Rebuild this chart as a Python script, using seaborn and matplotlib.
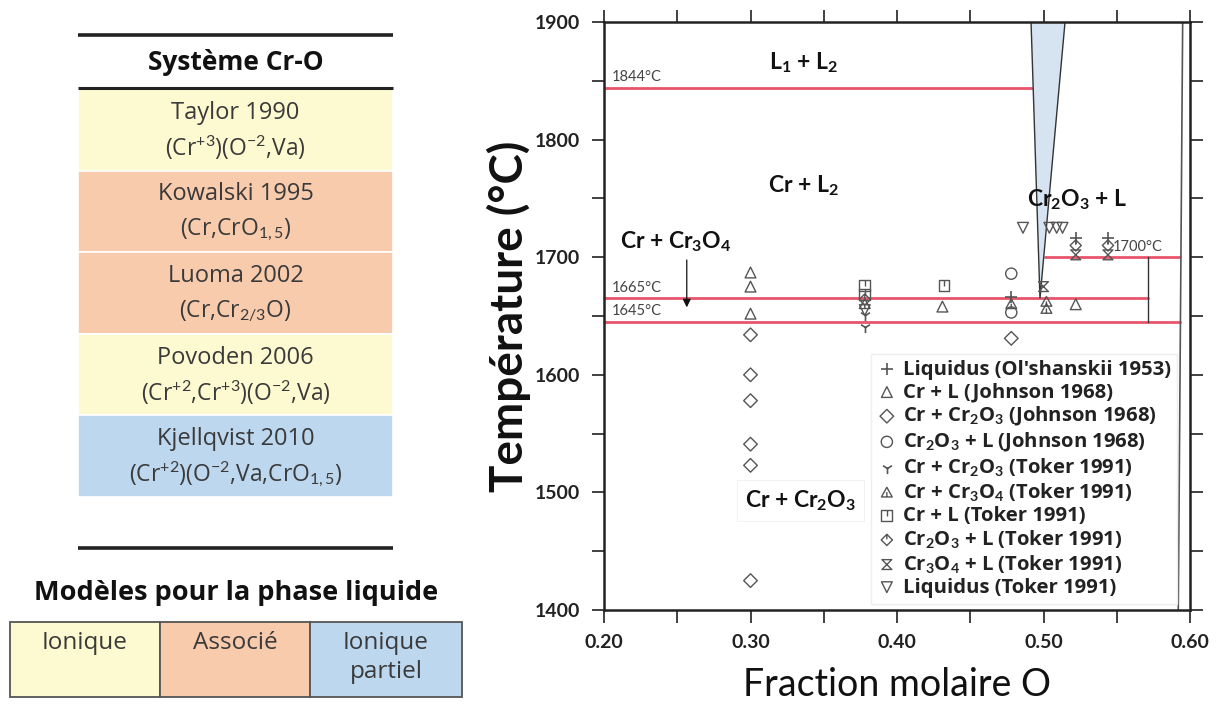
import numpy as np
import pandas as pd
import matplotlib
matplotlib.use("Agg")
import matplotlib.pyplot as plt
from matplotlib.path import Path
from matplotlib.ticker import MultipleLocator, FormatStrFormatter
import seaborn as sns

# ---------------- data ----------------
# Invariant reactions: temperature, x start, x end
invariant_T = [1844, 1665, 1645, 1700]
invariant_x0 = [0.20, 0.20, 0.20, 0.501]
invariant_x1 = [0.492, 0.571, 0.593, 0.593]
invariant_labels = ["1844°C", "1665°C", "1645°C", "1700°C"]

# Miscibility-gap tongue (shaded wedge)
wedge_x = [0.4915, 0.5147, 0.4976]
wedge_T = [1900, 1900, 1665]

# Cr2O3 phase boundary near x = 0.6
cr2o3_x = [0.595, 0.592]
cr2o3_T = [1900, 1400]

# Vertical boundary between 1645 and 1700 °C
vert_x = [0.571, 0.571]
vert_T = [1645, 1700]

# Experimental points
olsh_liq_x = [0.522, 0.544, 0.478]
olsh_liq_T = [1716, 1716, 1666]

joh_crl_x = [0.30, 0.30, 0.30, 0.431, 0.522]
joh_crl_T = [1687, 1675, 1652, 1658, 1660]

joh_cr_cr2o3_x = [0.30, 0.30, 0.30, 0.30, 0.30, 0.30, 0.478]
joh_cr_cr2o3_T = [1634, 1600, 1578, 1541, 1523, 1425, 1631]

joh_cr2o3_l_x = [0.478, 0.478]
joh_cr2o3_l_T = [1686, 1653]

tok_cr_cr2o3_x = [0.378, 0.378]
tok_cr_cr2o3_T = [1641, 1651]

tok_cr_cr3o4_x = [0.378, 0.502, 0.502, 0.478]
tok_cr_cr3o4_T = [1660, 1656, 1662, 1660]

tok_crl_x = [0.378, 0.432, 0.378]
tok_crl_T = [1676, 1676, 1668]

tok_cr2o3_l_x = [0.378, 0.522, 0.544]
tok_cr2o3_l_T = [1664, 1710, 1710]

tok_cr3o4_l_x = [0.500, 0.522, 0.544]
tok_cr3o4_l_T = [1675, 1702, 1702]

tok_liq_x = [0.486, 0.504, 0.509, 0.513, 0.378]
tok_liq_T = [1725, 1725, 1725, 1725, 1655]

series_labels = [
    "Liquidus (Ol'shanskii 1953)",
    "Cr + L (Johnson 1968)",
    r"Cr + Cr$_\mathbf{2}$O$_\mathbf{3}$ (Johnson 1968)",
    r"Cr$_\mathbf{2}$O$_\mathbf{3}$ + L (Johnson 1968)",
    r"Cr + Cr$_\mathbf{2}$O$_\mathbf{3}$ (Toker 1991)",
    r"Cr + Cr$_\mathbf{3}$O$_\mathbf{4}$ (Toker 1991)",
    "Cr + L (Toker 1991)",
    r"Cr$_\mathbf{2}$O$_\mathbf{3}$ + L (Toker 1991)",
    r"Cr$_\mathbf{3}$O$_\mathbf{4}$ + L (Toker 1991)",
    "Liquidus (Toker 1991)",
]

# Table of liquid models
model_names = ["Taylor 1990", "Kowalski 1995", "Luoma 2002", "Povoden 2006", "Kjellqvist 2010"]
model_formulas = [
    r"(Cr$^{+3}$)(O$^{-2}$,Va)",
    r"(Cr,CrO$_{1,5}$)",
    r"(Cr,Cr$_{2/3}$O)",
    r"(Cr$^{+2}$,Cr$^{+3}$)(O$^{-2}$,Va)",
    r"(Cr$^{+2}$)(O$^{-2}$,Va,CrO$_{1,5}$)",
]
model_types = ["Ionique", "Associé", "Associé", "Ionique", "Ionique partiel"]
type_names = ["Ionique", "Associé", "Ionique\npartiel"]
type_colors = {"Ionique": "#FDF9D0", "Associé": "#F8CBAD", "Ionique partiel": "#BDD7EE"}

# ---------------- style ----------------
sns.set_theme(style="ticks")
plt.rcParams["font.family"] = ["Lato", "DejaVu Sans"]
plt.rcParams["mathtext.fontset"] = "custom"
plt.rcParams["mathtext.rm"] = "Lato"
plt.rcParams["mathtext.it"] = "Lato:italic"
plt.rcParams["mathtext.bf"] = "Lato:bold"

fig = plt.figure(figsize=(12.25, 7.19), dpi=100)

# ---------------- left panel: model table ----------------
tab = fig.add_axes([0, 0, 1, 1])
tab.set_xlim(0, 1225)
tab.set_ylim(719, 0)
tab.axis("off")

tfam = ["Open Sans", "DejaVu Sans"]
tx0, tx1 = 78, 393
row_top = 89
row_h = 81.5
for i, (name, form, mtype) in enumerate(zip(model_names, model_formulas, model_types)):
    y0 = row_top + i * row_h
    tab.add_patch(plt.Rectangle((tx0, y0), tx1 - tx0, row_h,
                                facecolor=type_colors[mtype], edgecolor="white", lw=1.2))
    tab.text((tx0 + tx1) / 2, y0 + 24, name, ha="center", va="center",
             fontsize=17, color="#3a3a3a", family=tfam)
    tab.text((tx0 + tx1) / 2, y0 + 59, form, ha="center", va="center",
             fontsize=16.5, color="#3a3a3a", family=tfam)
tab.plot([tx0, tx1], [35, 35], color="#222222", lw=2.6, solid_capstyle="butt")
tab.plot([tx0, tx1], [88, 88], color="#222222", lw=2.2, solid_capstyle="butt")
tab.plot([tx0, tx1], [548, 548], color="#222222", lw=2.6, solid_capstyle="butt")
tab.text((tx0 + tx1) / 2, 63, "Système Cr-O", ha="center", va="center",
         fontsize=19, fontweight="bold", color="#111111", family=tfam)

tab.text(236, 593, "Modèles pour la phase liquide", ha="center", va="center",
         fontsize=19.5, fontweight="bold", color="#111111", family=tfam)
bx = [10, 160, 310, 462]
for j, tname in enumerate(type_names):
    key = tname.replace("\n", " ")
    tab.add_patch(plt.Rectangle((bx[j], 622), bx[j + 1] - bx[j], 75,
                                facecolor=type_colors[key], edgecolor="#555555", lw=1.3))
    tab.text((bx[j] + bx[j + 1]) / 2, 631, tname, ha="center", va="top",
             fontsize=17.5, color="#3a3a3a", linespacing=1.25, family=tfam)

# ---------------- right panel: phase diagram ----------------
ax = fig.add_axes([604 / 1225, 1 - 610 / 719, 586 / 1225, 588 / 719])
ax.set_xlim(0.20, 0.60)
ax.set_ylim(1400, 1900)

red = "#E8546A"
for T, x0, x1 in zip(invariant_T, invariant_x0, invariant_x1):
    ax.plot([x0, x1], [T, T], color=red, lw=2.0, zorder=2)

ax.fill(wedge_x, wedge_T, facecolor="#D6E4F2", edgecolor="#333333", lw=1.0, zorder=2)
ax.plot(cr2o3_x, cr2o3_T, color="#555555", lw=1.2, zorder=2)
ax.plot(vert_x, vert_T, color="#333333", lw=1.0, zorder=2)

# small temperature labels
lab_kw = dict(fontsize=10.5, color="#444444", zorder=4)
ax.text(0.205, invariant_T[0] + 3, invariant_labels[0], ha="left", va="bottom", **lab_kw)
ax.text(0.205, invariant_T[1] + 3, invariant_labels[1], ha="left", va="bottom", **lab_kw)
ax.text(0.205, invariant_T[2] + 3, invariant_labels[2], ha="left", va="bottom", **lab_kw)
ax.text(0.547, invariant_T[3] + 3, invariant_labels[3], ha="left", va="bottom", **lab_kw)

# custom marker shapes
tri_dot = Path([(-1, -0.8), (1, -0.8), (0, 1), (-1, -0.8), (0, -0.8), (0, 0.1)],
               [Path.MOVETO, Path.LINETO, Path.LINETO, Path.CLOSEPOLY, Path.MOVETO, Path.LINETO])
square_bar = Path([(-1, -1), (1, -1), (1, 1), (-1, 1), (-1, -1), (0, 1), (0, -0.1)],
                  [Path.MOVETO, Path.LINETO, Path.LINETO, Path.LINETO, Path.CLOSEPOLY,
                   Path.MOVETO, Path.LINETO])
diamond_dot = Path([(0, -1), (1, 0), (0, 1), (-1, 0), (0, -1), (0, 1), (0, 0.1)],
                   [Path.MOVETO, Path.LINETO, Path.LINETO, Path.LINETO, Path.CLOSEPOLY,
                    Path.MOVETO, Path.LINETO])
hourglass = Path([(-1, 1), (1, 1), (-1, -1), (1, -1), (-1, 1)],
                 [Path.MOVETO, Path.LINETO, Path.LINETO, Path.LINETO, Path.CLOSEPOLY])

mcol = "#555555"
series = [
    (olsh_liq_x, olsh_liq_T, "+", 75),
    (joh_crl_x, joh_crl_T, "^", 60),
    (joh_cr_cr2o3_x, joh_cr_cr2o3_T, "D", 48),
    (joh_cr2o3_l_x, joh_cr2o3_l_T, "o", 65),
    (tok_cr_cr2o3_x, tok_cr_cr2o3_T, "1", 65),
    (tok_cr_cr3o4_x, tok_cr_cr3o4_T, tri_dot, 60),
    (tok_crl_x, tok_crl_T, square_bar, 60),
    (tok_cr2o3_l_x, tok_cr2o3_l_T, diamond_dot, 65),
    (tok_cr3o4_l_x, tok_cr3o4_l_T, hourglass, 50),
    (tok_liq_x, tok_liq_T, "v", 60),
]
for (xs, ts, mk, sz), lab in zip(series, series_labels):
    df = pd.DataFrame({"x": xs, "T": ts})
    if isinstance(mk, str) and mk in ("+", "1"):
        sns.scatterplot(data=df, x="x", y="T", marker=mk, s=sz, color=mcol,
                        linewidth=1.2, ax=ax, label=lab, zorder=5)
    else:
        sns.scatterplot(data=df, x="x", y="T", marker=mk, s=sz,
                        facecolor="none", edgecolor=mcol, linewidth=1.0,
                        ax=ax, label=lab, zorder=5)

# region labels
reg_kw = dict(fontsize=16.5, fontweight="bold", color="#111111", ha="center", va="center", zorder=6)
ax.text(0.336, 1865, r"L$_\mathbf{1}$ + L$_\mathbf{2}$", **reg_kw)
ax.text(0.336, 1761, r"Cr + L$_\mathbf{2}$", **reg_kw)
ax.text(0.523, 1749, r"Cr$_\mathbf{2}$O$_\mathbf{3}$ + L", **reg_kw)
ax.text(0.249, 1713, r"Cr + Cr$_\mathbf{3}$O$_\mathbf{4}$", **reg_kw)
ax.text(0.334, 1493, r"Cr + Cr$_\mathbf{2}$O$_\mathbf{3}$",
        bbox=dict(facecolor="white", edgecolor="#F0F0F0", lw=0.6, pad=6), **reg_kw)
ax.annotate("", xy=(0.2565, 1655), xytext=(0.2565, 1700),
            arrowprops=dict(arrowstyle="-|>", color="#111111", lw=0.9,
                            mutation_scale=12), zorder=6)

leg = ax.legend(loc="lower right", bbox_to_anchor=(0.985, 0.004), frameon=True,
                fancybox=False, edgecolor="#EEEEEE", framealpha=1.0,
                prop={"weight": "bold", "size": 14.6, "family": ["Open Sans", "DejaVu Sans"]},
                handletextpad=0.3, labelspacing=0.13, borderpad=0.3, handlelength=1.0,
                borderaxespad=0.2)
for t in leg.get_texts():
    t.set_color("#222222")
leg.set_zorder(4)

# axes formatting
ax.xaxis.set_major_locator(MultipleLocator(0.10))
ax.xaxis.set_minor_locator(MultipleLocator(0.05))
ax.xaxis.set_major_formatter(FormatStrFormatter("%.2f"))
ax.yaxis.set_major_locator(MultipleLocator(100))
ax.yaxis.set_minor_locator(MultipleLocator(50))
ax.tick_params(axis="both", which="both", direction="out", length=9, width=1.3,
               top=True, right=True, colors="#333333")
ax.tick_params(axis="both", which="major", labelsize=14, labelcolor="#222222", pad=8)
for lab in ax.get_xticklabels() + ax.get_yticklabels():
    lab.set_fontweight("bold")
for sp in ax.spines.values():
    sp.set_linewidth(1.8)
    sp.set_color("#222222")
    sp.set_visible(True)

ax.set_xlabel("Fraction molaire O", fontsize=27, color="#111111", labelpad=12)
ax.set_ylabel("Température (°C)", fontsize=33, fontweight="bold", color="#111111", labelpad=3)

fig.savefig("out.png", dpi=100)
